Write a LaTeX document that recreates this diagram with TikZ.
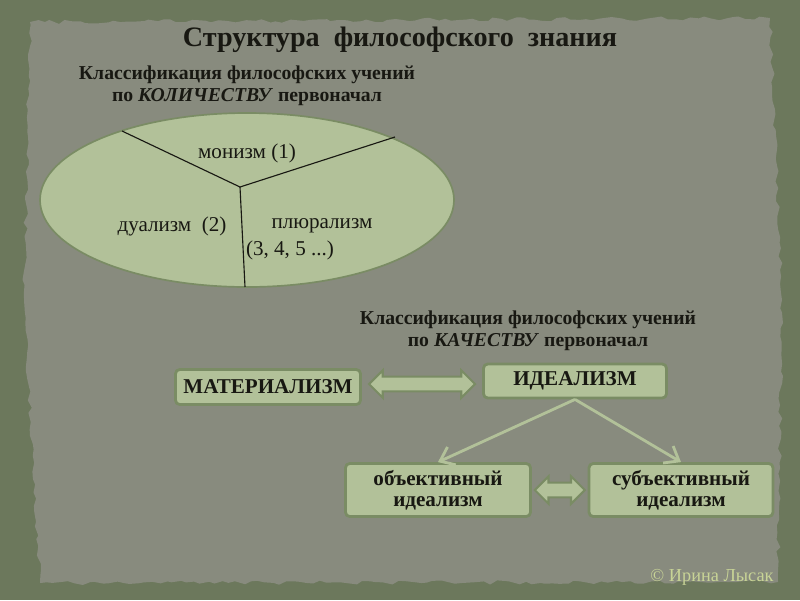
\documentclass[tikz,border=0pt]{standalone}
\usepackage{fontspec}
\setmainfont{Liberation Serif}
\usetikzlibrary{arrows.meta,shapes.geometric,shapes.arrows,calc,decorations.pathmorphing}
\definecolor{frame}{RGB}{108,120,92}
\definecolor{paper}{RGB}{136,139,126}
\definecolor{leaf}{RGB}{178,193,153}
\definecolor{leafedge}{RGB}{122,140,100}
\definecolor{ink}{RGB}{24,24,18}
\definecolor{sign}{RGB}{200,212,150}

\begin{document}
\begin{tikzpicture}[x=0.025cm,y=-0.025cm,
    every node/.style={text=ink},
    box/.style={draw=leafedge,line width=2pt,fill=leaf,rounded corners=3pt,
      font=\fontsize{15}{15}\selectfont\bfseries,align=center},
    dblarrow/.style={double arrow,draw=leafedge,line width=1.5pt,fill=leaf,
      double arrow head extend=4.5pt,inner sep=4.5pt},
    thin/.style={draw=leaf,line width=2pt,-{Straight Barb[length=9pt,width=14pt]}},
    heading/.style={font=\fontsize{14}{16}\selectfont\bfseries,align=center}]
  \useasboundingbox (0,0) rectangle (800,600);
  % background and paper
  \fill[frame] (0,0) rectangle (800,600);
  \fill[paper,decorate,decoration={random steps,segment length=5pt,amplitude=1.5pt}]
    (30,22) -- (770,18) -- (782,300) -- (778,582) -- (40,583) -- (24,300) -- cycle;
  % title
  \node[font=\fontsize{20}{20}\selectfont\bfseries] (title) at (400,40)
    {Структура\ \ философского\ \ знания};
  % classification by quantity
  \node[heading] (qty) at (247,86)
    {Классификация философских учений\\по \textit{КОЛИЧЕСТВУ} первоначал};
  \draw[fill=leaf,draw=leafedge,line width=1.2pt] (247,200) ellipse (207 and 87);
  \coordinate (mid) at (240,187);
  \draw[ink,line width=0.8pt] (122,131) -- (mid) -- (395,137);
  \draw[ink,line width=0.8pt] (mid) -- (245,287);
  \node[font=\fontsize{15}{15}\selectfont] (mono) at (247,153) {монизм (1)};
  \node[font=\fontsize{15}{15}\selectfont] (dual) at (172,226) {дуализм\ \ (2)};
  \node[font=\fontsize{15}{15}\selectfont] (plur) at (322,226) {плюрализм};
  \node[font=\fontsize{15}{15}\selectfont] (nums) at (290,250) {(3, 4, 5 ...)};
  % classification by quality
  \node[heading] (qual) at (528,331)
    {Классификация философских учений\\по \textit{КАЧЕСТВУ} первоначал};
  \node[box,minimum width=185*0.025cm,minimum height=35*0.025cm] (mat) at (268,387) {МАТЕРИАЛИЗМ};
  \node[box,minimum width=183*0.025cm,minimum height=34*0.025cm] (ide) at (575,381) {ИДЕАЛИЗМ};
  \node[box,minimum width=185*0.025cm,minimum height=53*0.025cm] (obj) at (438,490) {объективный\\идеализм};
  \node[box,minimum width=184*0.025cm,minimum height=53*0.025cm] (subj) at (681,490) {субъективный\\идеализм};
  \node[dblarrow,minimum height=106*0.025cm] (ar1) at ($(mat.east)!0.5!(ide.west)$) {};
  \node[dblarrow,minimum height=50*0.025cm] (ar2) at ($(obj.east)!0.5!(subj.west)$) {};
  \draw[thin] (ide.south) -- (obj.north);
  \draw[thin] (ide.south) -- (subj.north);
  % signature
  \node[text=sign,font=\fontsize{13}{13}\selectfont] (sig) at (712,577) {© Ирина Лысак};
\end{tikzpicture}
\end{document}
